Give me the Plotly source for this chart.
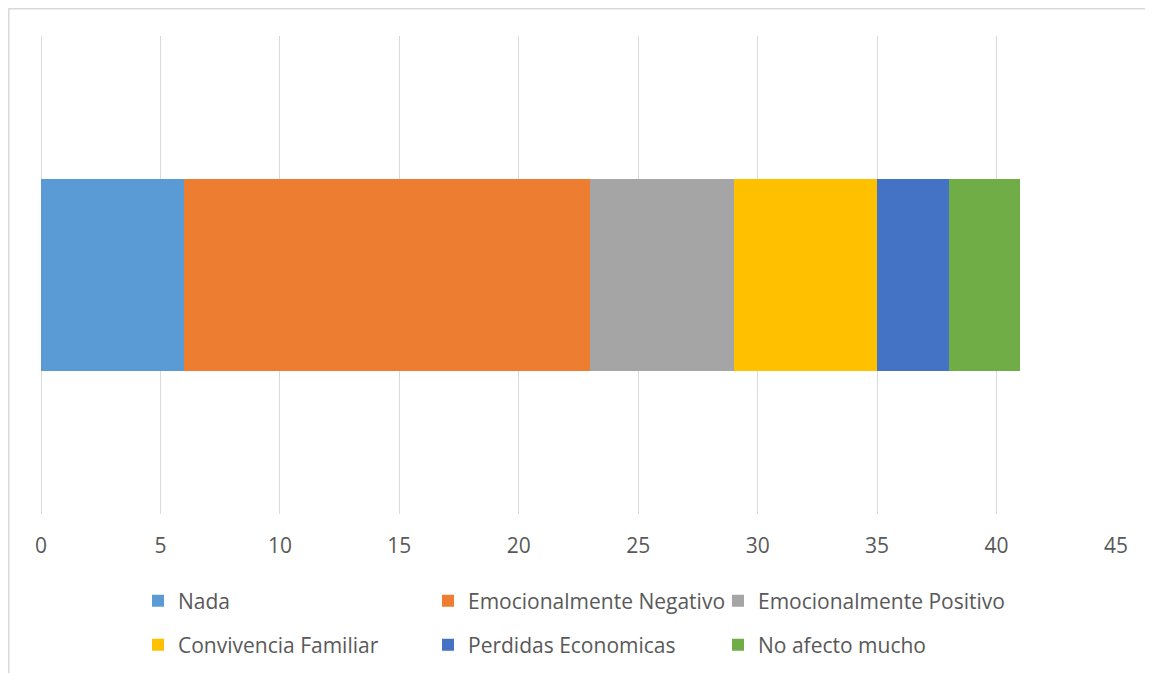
import plotly.graph_objects as go

categories = ["Nada", "Emocionalmente Negativo", "Emocionalmente Positivo",
              "Convivencia Familiar", "Perdidas Economicas", "No afecto mucho"]
values = [6, 17, 6, 6, 3, 3]
colors = ["#5B9BD5", "#ED7D31", "#A5A5A5", "#FFC000", "#4472C4", "#70AD47"]
tick_vals = [0, 5, 10, 15, 20, 25, 30, 35, 40, 45]

FONT = "Open Sans"
TXT = "#595959"
FS = 21
OFF = 8  # page body margin

fig = go.Figure()
for i, (name, v, c) in enumerate(zip(categories, values, colors)):
    fig.add_trace(go.Bar(
        y=["A"], x=[v], name=name, orientation="h",
        marker=dict(color=c, line=dict(width=0)),
        width=0.4,
        legend="legend" if i < 3 else "legend2",
    ))

W, H = 1153, 673
L, T = 41 - OFF, 36 - OFF
R = W - (1116 - OFF)
B = H - (514 - OFF)
pw = W - L - R
ph = H - T - B

def px_x(p):
    return (p - OFF - L) / pw

def px_y(p):
    return (H - B - (p - OFF)) / ph

leg_common = dict(
    orientation="h", xanchor="left", yanchor="middle",
    entrywidth=245, entrywidthmode="pixels",
    font=dict(family=FONT, size=FS, color=TXT),
    bgcolor="rgba(0,0,0,0)", itemclick=False, traceorder="normal",
)

fig.update_layout(
    width=W, height=H,
    margin=dict(l=L, r=R, t=T, b=B),
    barmode="stack",
    plot_bgcolor="white", paper_bgcolor="white",
    font=dict(family=FONT, size=FS, color=TXT),
    xaxis=dict(range=[0, 45], tickvals=tick_vals, showgrid=True,
               gridcolor="#D9D9D9", gridwidth=1.3, zeroline=True,
               zerolinecolor="#D9D9D9", zerolinewidth=1.3, showline=False,
               ticks="", ticklabelstandoff=17,
               tickfont=dict(family=FONT, size=FS, color=TXT), fixedrange=True),
    yaxis=dict(range=[-0.5, 0.5], showticklabels=False, showgrid=False,
               zeroline=False, showline=False, fixedrange=True),
    legend=dict(x=px_x(138), y=px_y(601), **leg_common),
    legend2=dict(x=px_x(138), y=px_y(645), **leg_common),
    showlegend=True,
    shapes=[dict(type="rect", xref="paper", yref="paper",
                 x0=px_x(OFF + 0.75), x1=px_x(1250), y0=px_y(760), y1=px_y(OFF + 0.75),
                 line=dict(color="#D9D9D9", width=1.5), fillcolor="rgba(0,0,0,0)",
                 layer="below")],
)

fig.write_html("out.html")
